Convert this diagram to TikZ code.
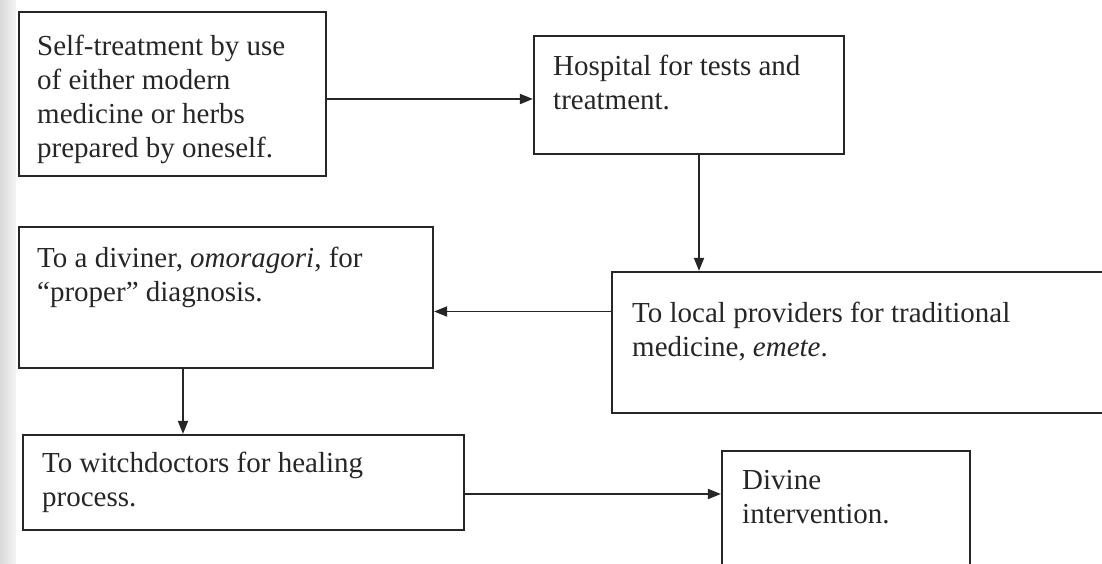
\documentclass[tikz,border=0pt]{standalone}
\usepackage{fontspec}
\setmainfont{Liberation Serif}
\usetikzlibrary{arrows.meta}
\definecolor{ink}{HTML}{262626}
\tikzset{
  box/.style={draw=ink, line width=2.2pt, rectangle, inner sep=0pt},
  lbl/.style={anchor=north west, inner sep=0pt, align=left, text=ink,
    font=\fontsize{29}{34}\selectfont},
  conn/.style={draw=ink, line width=1.8pt, -{Triangle[length=13pt,width=10pt]}}
}
\begin{document}
\begin{tikzpicture}[x=1pt,y=-1pt]
\useasboundingbox (0,0) rectangle (1102,564);
\clip (0,0) rectangle (1102,564);
\shade[left color=gray!30, right color=gray!8] (0,0) rectangle (16,564);
% boxes
\node[box, minimum width=307pt, minimum height=164pt] (b1) at (172.5,94) {};
\node[box, minimum width=310pt, minimum height=118pt] (b2) at (689,95) {};
\node[box, minimum width=414pt, minimum height=141pt] (b3) at (226,297.5) {};
\node[box, minimum width=503pt, minimum height=141pt] (b4) at (863.5,342.5) {};
\node[box, minimum width=441pt, minimum height=95pt] (b5) at (243.5,482.5) {};
\node[box, minimum width=248pt, minimum height=149pt] (b6) at (846,525.5) {};
% texts
\node[lbl] (t1) at (37,35) {Self-treatment by use\\of either modern\\medicine or herbs\\prepared by oneself.};
\node[lbl] (t2) at (553,55) {Hospital for tests and\\treatment.};
\node[lbl] (t3) at (37,247) {To a diviner, \textit{omoragori}, for\\“proper” diagnosis.};
\node[lbl] (t4) at (632,302) {To local providers for traditional\\medicine, \textit{emete}.};
\node[lbl] (t5) at (42,452) {To witchdoctors for healing\\process.};
\node[lbl] (t6) at (742,470) {Divine\\intervention.};
% connectors
\draw[conn] ([yshift=-5pt]b1.east) -- ([yshift=-5pt]b1.east -| b2.west);
\draw[conn] ([xshift=10pt]b2.south) -- ([xshift=10pt]b2.south |- b4.north);
\draw[conn] ([yshift=31pt]b4.west) -- ([yshift=31pt]b4.west -| b3.east);
\draw[conn] ([xshift=-43pt]b3.south) -- ([xshift=-43pt]b3.south |- b5.north);
\draw[conn] ([yshift=-11.5pt]b5.east) -- ([yshift=-11.5pt]b5.east -| b6.west);
\end{tikzpicture}
\end{document}
